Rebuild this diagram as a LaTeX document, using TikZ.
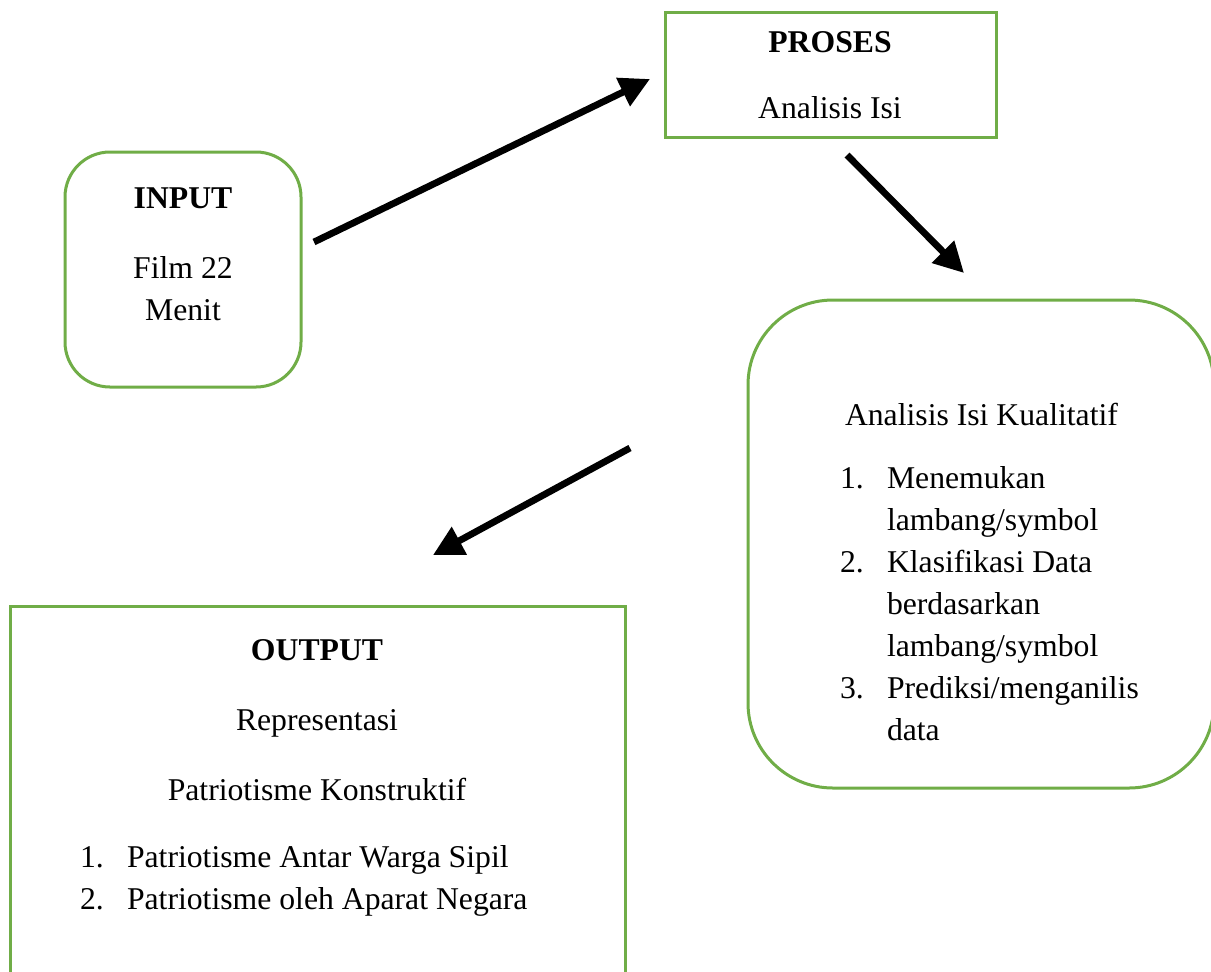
\documentclass[tikz,border=0pt]{standalone}
\usepackage{fontspec}
\setmainfont{Liberation Serif}
\usetikzlibrary{arrows.meta}
\begin{document}
\begin{tikzpicture}[x=0.5pt,y=-0.5pt,
  box/.style={draw=boxgreen,line width=1.5pt,inner sep=0pt,outer sep=0pt},
  txt/.style={inner sep=0pt,outer sep=0pt,anchor=base,font=\fontsize{15.85}{21}\selectfont},
  ltxt/.style={txt,anchor=base west},
  bigarrow/.style={line width=3.4pt,-{Triangle[length=15pt,width=15pt]}}]
\definecolor{boxgreen}{HTML}{70AD47}
\useasboundingbox (0,0) rectangle (1211,971);
\clip (0,0) rectangle (1211,971);
% boxes
\node[box,minimum width=165.5pt,minimum height=62.5pt] (proses) at (830.5,74.5) {};
\node[box,rounded corners=22.5pt,minimum width=118pt,minimum height=117.5pt] (input) at (183,269.5) {};
\node[box,rounded corners=42.5pt,minimum width=233pt,minimum height=244pt] (analisis) at (981,544) {};
\node[box,minimum width=307.5pt,minimum height=202pt] (output) at (317.5,808) {};
% texts
\node[txt,font=\fontsize{15.85}{21}\selectfont\bfseries] (t1) at (830,52) {PROSES};
\node[txt] (t2) at (830,118) {Analisis Isi};
\node[txt,font=\fontsize{15.85}{21}\selectfont\bfseries] (t3) at (183,208) {INPUT};
\node[txt] (t4) at (183,278) {Film 22};
\node[txt] (t5) at (183,320) {Menit};
\node[ltxt] (t6) at (845,425) {Analisis Isi Kualitatif};
\node[ltxt] (n1) at (840,488) {1.};
\node[ltxt] (a1) at (887,488) {Menemukan};
\node[ltxt] (a2) at (887,530) {lambang/symbol};
\node[ltxt] (n2) at (840,572) {2.};
\node[ltxt] (a3) at (887,572) {Klasifikasi Data};
\node[ltxt] (a4) at (887,614) {berdasarkan};
\node[ltxt] (a5) at (887,656) {lambang/symbol};
\node[ltxt] (n3) at (840,698) {3.};
\node[ltxt] (a6) at (887,698) {Prediksi/menganilis};
\node[ltxt] (a7) at (887,740) {data};
\node[txt,font=\fontsize{15.85}{21}\selectfont\bfseries] (t7) at (317,660) {OUTPUT};
\node[txt] (t8) at (317,730) {Representasi};
\node[txt] (t9) at (317,800) {Patriotisme Konstruktif};
\node[ltxt] (m1) at (80,867) {1.};
\node[ltxt] (b1) at (127,867) {Patriotisme Antar Warga Sipil};
\node[ltxt] (m2) at (80,909) {2.};
\node[ltxt] (b2) at (127,909) {Patriotisme oleh Aparat Negara};
% arrows
\coordinate (s1) at (314,242); \coordinate (e1) at (650,79);
\coordinate (s2) at (847,155); \coordinate (e2) at (964,273);
\coordinate (s3) at (630,448); \coordinate (e3) at (433,555);
\draw[bigarrow] (s1) -- (e1);
\draw[bigarrow] (s2) -- (e2);
\draw[bigarrow] (s3) -- (e3);
\end{tikzpicture}
\end{document}
